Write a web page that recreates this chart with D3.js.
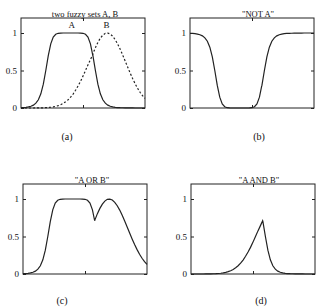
<!DOCTYPE html>
<html><head><meta charset="utf-8">
<script src="https://cdn.jsdelivr.net/npm/d3@7/dist/d3.min.js"></script>
<style>body{margin:0;background:#fff}svg{display:block}text{font-family:"Liberation Serif","Times New Roman",serif;fill:#111}</style>
</head><body>
<script>
const xs   = [0,2,4,6,8,10,12,14,16,18,20,22,24,26,28,30,32,34,36,38,40,42,44,46,48,50,52,54,56,57.8,58,60,62,64,66,68,70,72,74,76,78,80,82,84,86,88,90,92,94,96,98,100];
const setA = [0.004,0.006,0.009,0.014,0.023,0.038,0.064,0.109,0.189,0.318,0.5,0.699,0.856,0.946,0.983,0.996,0.999,1,1,1,1,1,1,1,0.999,0.996,0.983,0.946,0.856,0.71,0.699,0.5,0.318,0.189,0.109,0.064,0.038,0.023,0.014,0.009,0.006,0.004,0.003,0.002,0.001,0.001,0.001,0,0,0,0,0];
const setB = [0,0,0,0,0,0,0.001,0.001,0.002,0.003,0.004,0.007,0.010,0.015,0.022,0.031,0.044,0.061,0.083,0.110,0.145,0.186,0.236,0.293,0.355,0.425,0.500,0.575,0.645,0.71,0.722,0.805,0.875,0.932,0.972,0.995,0.999,0.986,0.956,0.910,0.852,0.783,0.707,0.627,0.546,0.468,0.393,0.325,0.264,0.210,0.164,0.127];
const notA = [0.996,0.994,0.991,0.986,0.977,0.962,0.936,0.891,0.811,0.682,0.5,0.301,0.144,0.054,0.017,0.004,0.001,0,0,0,0,0,0,0,0.001,0.004,0.017,0.054,0.144,0.29,0.301,0.5,0.682,0.811,0.891,0.936,0.962,0.977,0.986,0.991,0.994,0.996,0.997,0.998,0.999,0.999,0.999,1,1,1,1,1];
const aOrB = [0.004,0.006,0.009,0.014,0.023,0.038,0.064,0.109,0.189,0.318,0.5,0.699,0.856,0.946,0.983,0.996,0.999,1,1,1,1,1,1,1,0.999,0.996,0.983,0.946,0.856,0.71,0.722,0.805,0.875,0.932,0.972,0.995,0.999,0.986,0.956,0.910,0.852,0.783,0.707,0.627,0.546,0.468,0.393,0.325,0.264,0.210,0.164,0.127];
const aAndB= [0,0,0,0,0,0,0.001,0.001,0.002,0.003,0.004,0.007,0.010,0.015,0.022,0.031,0.044,0.061,0.083,0.110,0.145,0.186,0.236,0.293,0.355,0.425,0.500,0.575,0.645,0.71,0.699,0.5,0.318,0.189,0.109,0.064,0.038,0.023,0.014,0.009,0.006,0.004,0.003,0.002,0.001,0.001,0.001,0,0,0,0,0];
const yTicks = [0, 0.5, 1];
const yTickLabels = ["0", "0.5", "1"];
const titles = ["two fuzzy sets A, B", "\"NOT A\"", "\"A OR B\"", "\"A AND B\""];
const captions = ["(a)", "(b)", "(c)", "(d)"];
const curveLabels = ["A", "B"];

const svg = d3.select("body").append("svg").attr("width",319).attr("height",307);
const W = 124, H = 90;
const panels = [
  {x:21, y:18, title:titles[0], tdx:2, cap:captions[0], cx:67, cy:140, series:[{v:setA,dash:null},{v:setB,dash:"2,2"}]},
  {x:190,y:18, title:titles[1], tdx:6, cap:captions[1], cx:259, cy:140, series:[{v:notA,dash:null}]},
  {x:23, y:184,title:titles[2], tdx:7, cap:captions[2], cx:62, cy:304, series:[{v:aOrB,dash:null}]},
  {x:191,y:184,title:titles[3], tdx:6, cap:captions[3], cx:261, cy:304, series:[{v:aAndB,dash:null}]}
];
const x = d3.scaleLinear().domain([0,100]).range([0,W]);
const y = d3.scaleLinear().domain([0,1.2]).range([H,0]);
const line = d3.line().x((d,i)=>x(xs[i])).y(d=>y(d));

panels.forEach((p,pi)=>{
  const g = svg.append("g").attr("transform",`translate(${p.x},${p.y})`);
  const axL = g.append("g").call(d3.axisLeft(y).tickValues(yTicks).tickSize(-3).tickPadding(4).tickFormat((d,i)=>yTickLabels[i]));
  const axR = g.append("g").attr("transform",`translate(${W},0)`).call(d3.axisRight(y).tickValues(yTicks).tickSize(-3).tickFormat(""));
  const axB = g.append("g").attr("transform",`translate(0,${H})`).call(d3.axisBottom(x).tickValues([50]).tickSize(-3).tickFormat(""));
  const axT = g.append("g").call(d3.axisTop(x).tickValues([50]).tickSize(-3).tickFormat(""));
  [axL,axR,axB,axT].forEach(a=>{a.select(".domain").remove();a.selectAll("line").attr("stroke","#222");a.selectAll("text").attr("font-size",9).attr("font-family","Liberation Serif").attr("fill","#111");});
  g.append("rect").attr("width",W).attr("height",H).attr("fill","none").attr("stroke","#222").attr("stroke-width",1);
  p.series.forEach(s=>{
    g.append("path").datum(s.v).attr("d",line).attr("fill","none").attr("stroke","#222").attr("stroke-width",1.2).attr("stroke-dasharray",s.dash);
  });
  g.append("text").attr("x",W/2+p.tdx).attr("y",-1).attr("text-anchor","middle").attr("font-size",8.5).text(p.title);
  if(pi===0){
    g.append("text").attr("x",x(41)).attr("y",y(1.07)).attr("text-anchor","middle").attr("font-size",9).text(curveLabels[0]);
    g.append("text").attr("x",x(69)).attr("y",y(1.07)).attr("text-anchor","middle").attr("font-size",9).text(curveLabels[1]);
  }
  svg.append("text").attr("x",p.cx).attr("y",p.cy).attr("text-anchor","middle").attr("font-size",10).text(p.cap);
});
</script>
</body></html>
